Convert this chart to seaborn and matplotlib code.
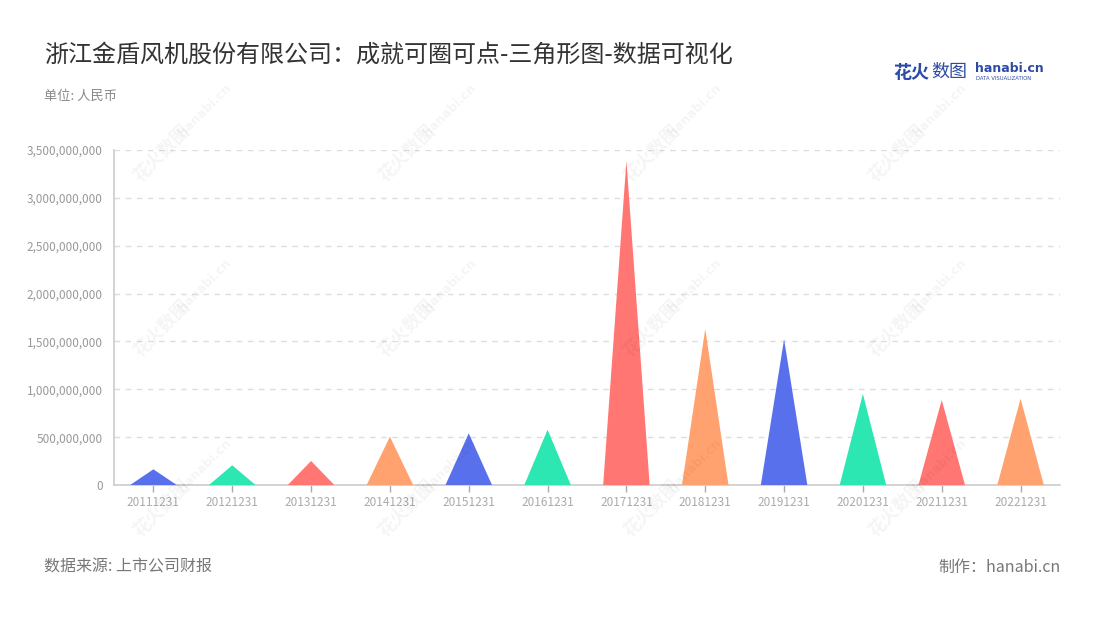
"""
浙江金盾风机 - 成就可圈可点 三角形图 재현
실행: python plot.py -> out.png
"""

import matplotlib
matplotlib.use("Agg")
import matplotlib.pyplot as plt
from matplotlib.patches import Polygon
from matplotlib.ticker import FuncFormatter
import seaborn as sns
import pandas as pd

# 데이터
periods = ["20111231", "20121231", "20131231", "20141231", "20151231", "20161231",
           "20171231", "20181231", "20191231", "20201231", "20211231", "20221231"]
values = [164e6, 206e6, 251e6, 505e6, 540e6, 578e6,
          3388e6, 1630e6, 1522e6, 951e6, 888e6, 902e6]
palette = ["#5870EC", "#2DE7B2", "#FF7672", "#FFA26F"]

title = "浙江金盾风机股份有限公司：成就可圈可点-三角形图-数据可视化"
unit_text = "单位: 人民币"
source_text = "数据来源: 上市公司财报"
maker_text = "制作：hanabi.cn"

df = pd.DataFrame({"period": periods, "value": values})
colors = [palette[i % len(palette)] for i in range(len(periods))]

sns.set_theme(style="white")
plt.rcParams["font.family"] = ["Noto Sans CJK SC", "DejaVu Sans"]

fig = plt.figure(figsize=(11, 6.2), dpi=100)
ax = fig.add_axes([114 / 1100, 1 - 485 / 620, (1060 - 114) / 1100, (485 - 150) / 620])

# 막대를 먼저 그린 뒤 같은 위치의 삼각형으로 교체
sns.barplot(data=df, x="period", y="value", hue="period", palette=colors,
            width=0.59, legend=False, ax=ax)
for patch, c in zip(list(ax.patches), colors):
    x0, w, h = patch.get_x(), patch.get_width(), patch.get_height()
    tri = Polygon([(x0, 0), (x0 + w / 2, h), (x0 + w, 0)], closed=True,
                  facecolor=c, edgecolor="none", zorder=3)
    patch.remove()
    ax.add_patch(tri)

ax.set_ylim(0, 3.5e9)
ax.set_xlim(-0.5, len(periods) - 0.5)
ax.set_yticks([i * 5e8 for i in range(8)])
ax.yaxis.set_major_formatter(FuncFormatter(lambda v, p: f"{int(v):,}"))
ax.set_xlabel("")
ax.set_ylabel("")

ax.grid(axis="y", color="#dddddd", linestyle=(0, (4, 4)), linewidth=1, zorder=0)
ax.set_axisbelow(True)
for s in ["top", "right"]:
    ax.spines[s].set_visible(False)
for s in ["left", "bottom"]:
    ax.spines[s].set_color("#cccccc")
    ax.spines[s].set_linewidth(1.2)

ax.tick_params(axis="x", colors="#aaaaaa", labelsize=8.5, length=5, width=1,
               labelcolor="#aaaaaa", pad=3, bottom=True)
ax.tick_params(axis="y", colors="#aaaaaa", labelsize=8.5, length=0,
               labelcolor="#999999", pad=8, left=False)

# 워터마크
for wx in [180, 425, 670, 915]:
    for wy in [135, 310, 490]:
        fig.text((wx - 18) / 1100, 1 - (wy + 18) / 620, "花火数图", rotation=45,
                 ha="center", va="center", fontsize=13, color="#000000",
                 alpha=0.045, fontweight="bold", zorder=0)
        fig.text((wx + 25) / 1100, 1 - (wy - 25) / 620, "hanabi.cn", rotation=45,
                 ha="center", va="center", fontsize=9, color="#000000",
                 alpha=0.045, fontweight="bold", zorder=0, family="DejaVu Sans")

# 제목 및 텍스트
fig.text(44 / 1100, 1 - 55 / 620, title, fontsize=17.3, color="#333333",
         ha="left", va="center")
fig.text(44 / 1100, 1 - 96 / 620, unit_text, fontsize=9.5, color="#888888",
         ha="left", va="center")
fig.text(44 / 1100, 1 - 567 / 620, source_text, fontsize=11.5, color="#777777",
         ha="left", va="center")
fig.text(1061 / 1100, 1 - 567 / 620, maker_text, fontsize=11.5, color="#777777",
         ha="right", va="center")

# 로고
fig.text(893 / 1100, 1 - 72 / 620, "花火", fontsize=13, color="#2D4BA6",
         fontweight="bold", ha="left", va="center")
fig.text(931 / 1100, 1 - 72 / 620, "数图", fontsize=13, color="#2D4BA6",
         ha="left", va="center")
fig.text(975 / 1100, 1 - 69 / 620, "hanabi.cn", fontsize=9, color="#2D4BA6",
         fontweight="bold", ha="left", va="center", family="DejaVu Sans")
fig.text(976 / 1100, 1 - 79 / 620, "DATA VISUALIZATION", fontsize=3.8,
         color="#2D4BA6", ha="left", va="center", family="DejaVu Sans")

fig.savefig("out.png", dpi=100)
print("saved out.png")
